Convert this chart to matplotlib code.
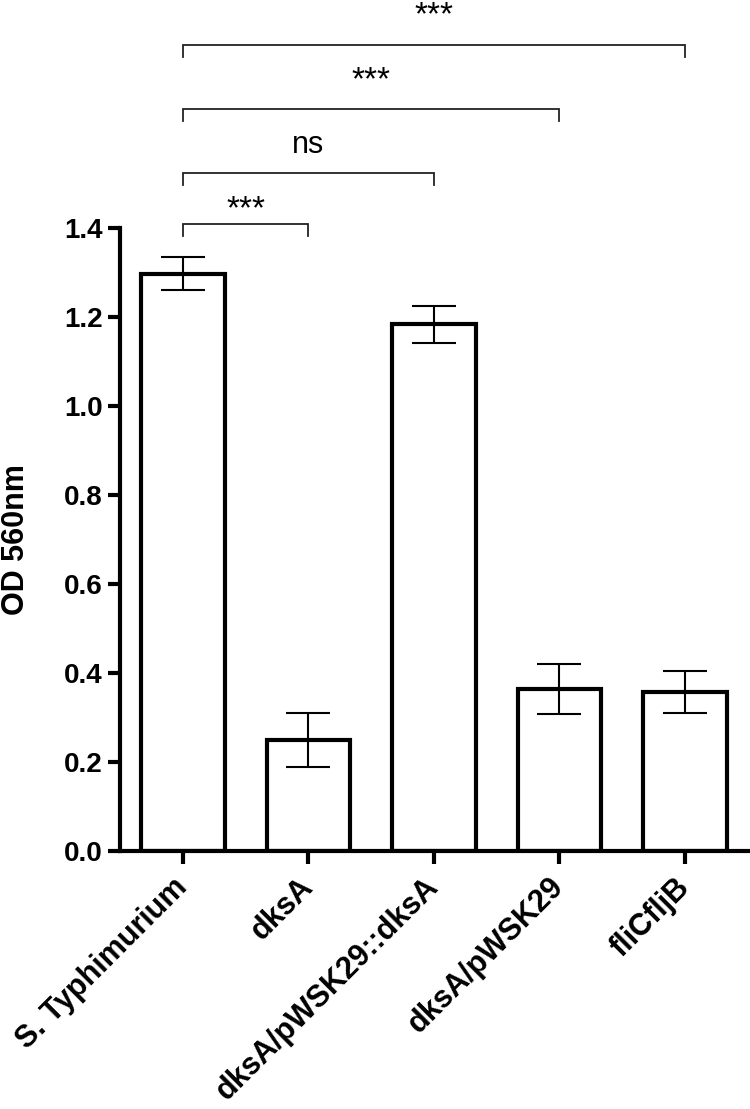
import numpy as np
import matplotlib
matplotlib.use("Agg")
import matplotlib.pyplot as plt

plt.rcParams["font.family"] = ["Liberation Sans", "DejaVu Sans"]

# --- données ---
strains = ["S. Typhimurium", "dksA", "dksA/pWSK29::dksA", "dksA/pWSK29", "fliCfljB"]
od_mean = [1.297, 0.249, 1.183, 0.363, 0.357]
od_err = [0.037, 0.060, 0.042, 0.056, 0.047]

# comparaisons vs S. Typhimurium : (groupe, hauteur du crochet, label)
comp_target = [1, 2, 3, 4]
comp_height = [1.409, 1.523, 1.667, 1.811]
comp_label = ["***", "ns", "***", "***"]

DPI = 100
fig = plt.figure(figsize=(750 / DPI, 1109 / DPI), dpi=DPI)
ax = fig.add_axes([0.1603, 0.2329, 0.8367, 0.5618])

x = np.arange(len(strains))
ax.bar(x, od_mean, width=0.665, color="white", edgecolor="black",
       linewidth=3.0, zorder=2)
ax.errorbar(x, od_mean, yerr=od_err, fmt="none", ecolor="black",
            elinewidth=1.5, capsize=15.5, capthick=1.5, zorder=3)

ax.set_xlim(-0.5, 4.5)
ax.set_ylim(0, 1.4)
ax.set_yticks(np.arange(0, 1.41, 0.2))
ax.set_yticklabels([f"{v:.1f}" for v in np.arange(0, 1.41, 0.2)])
ax.set_xticks(x)
ax.set_xticklabels(strains, rotation=45, ha="right", va="center",
                   rotation_mode="anchor")

for side in ["top", "right"]:
    ax.spines[side].set_visible(False)
for side in ["left", "bottom"]:
    ax.spines[side].set_linewidth(3.0)

ax.tick_params(axis="both", width=3.0, length=9)
ax.tick_params(axis="y", labelsize=20)
ax.tick_params(axis="x", labelsize=22, pad=14)
for lab in ax.get_xticklabels() + ax.get_yticklabels():
    lab.set_fontweight("bold")

ax.set_ylabel("OD 560nm", fontsize=22, fontweight="bold", labelpad=24)

# crochets de significativité
drop = 0.027
for i, (t, h, lab) in enumerate(zip(comp_target, comp_height, comp_label)):
    ax.plot([0, 0, t, t], [h - drop, h, h, h - drop], color="#222222",
            lw=1.3, clip_on=False, solid_joinstyle="miter")
    off = 0.0124 if i == 0 else 0.045
    size = 22 if lab == "ns" else 24
    ax.text(t / 2, h + off, lab, ha="center", va="baseline", fontsize=size,
            clip_on=False)

fig.savefig("out.png", dpi=DPI)
